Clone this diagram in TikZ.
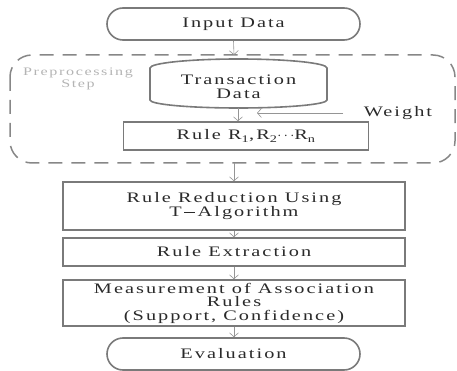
\documentclass[tikz,border=0pt]{standalone}
\usepackage{fontspec}
\setmainfont{Liberation Serif}[FakeStretch=1.4,LetterSpace=14]
\usetikzlibrary{arrows.meta}
\definecolor{boxgray}{HTML}{7A7A7A}
\definecolor{txtgray}{HTML}{2A2A2A}
\definecolor{lightgray}{HTML}{B4B4B4}
\begin{document}
\begin{tikzpicture}[x=1pt,y=-1pt,
    stepbox/.style={draw=boxgray,line width=1.6pt,fill=white,text=txtgray,align=center,
      font=\fontsize{14.5}{13.5}\selectfont,inner sep=0pt},
    termbox/.style={stepbox,rounded corners=16pt,minimum width=253pt,minimum height=32pt},
    conn/.style={draw=boxgray!80,line width=0.6pt,-{Straight Barb[length=4pt,width=9pt]}}]
        \useasboundingbox (0,0) rectangle (457,371);

        % preprocessing frame
        \draw[boxgray!90,line width=1.5pt,dash pattern=on 14pt off 9pt,rounded corners=22pt]
            (10,55) rectangle (455,163);
        \node[text=lightgray,align=center,font=\fontsize{11.5}{12}\selectfont] (prelabel) at (78,79) {Preprocessing\\Step};
        \coordinate (pretop) at (234,55);
        \coordinate (prebot) at (234,163);

        \node[termbox] (input) at (233.5,24) {Input Data};

        % transaction data drum
        \draw[boxgray,line width=1.6pt,fill=white] (150,100) -- (150,68)
            arc[start angle=180,end angle=0,x radius=88.5pt,y radius=9pt] -- (327,100)
            arc[start angle=0,end angle=-180,x radius=88.5pt,y radius=8pt] -- cycle;
        \node[text=txtgray,align=center,font=\fontsize{14.5}{14}\selectfont] (trans) at (238.5,87) {Transaction\\Data};
        \coordinate (transbot) at (238,108);

        \node[stepbox,minimum width=245pt,minimum height=28pt] (rules) at (246,136) {Rule R\textsubscript{1},R\textsubscript{2}$\cdots$R\textsubscript{n}};
        \node[text=txtgray,font=\fontsize{14.5}{13.5}\selectfont] (weight) at (398,113) {Weight};
        \coordinate (wstart) at (343,113);
        \coordinate (wend) at (257,113);

        \node[stepbox,minimum width=342pt,minimum height=48pt] (reduce) at (234,206) {Rule Reduction Using\\T\,\rule[3.6pt]{11pt}{0.5pt}\,Algorithm};
        \node[stepbox,minimum width=342pt,minimum height=28pt] (extract) at (234,252) {Rule Extraction};
        \node[stepbox,minimum width=342pt,minimum height=46pt] (measure) at (234,303) {Measurement of Association\\Rules\\(Support, Confidence)};
        \node[termbox] (eval) at (233.5,354) {Evaluation};

        \draw[conn] (input.south) -- (pretop);
        \draw[conn] (transbot) -- (transbot |- rules.north);
        \draw[conn] (wstart) -- (wend);
        \draw[conn] (prebot) -- (prebot |- reduce.north);
        \draw[conn] (reduce.south) -- (extract.north);
        \draw[conn] (extract.south) -- (measure.north);
        \draw[conn] (measure.south) -- (measure.south |- eval.north);
\end{tikzpicture}
\end{document}
